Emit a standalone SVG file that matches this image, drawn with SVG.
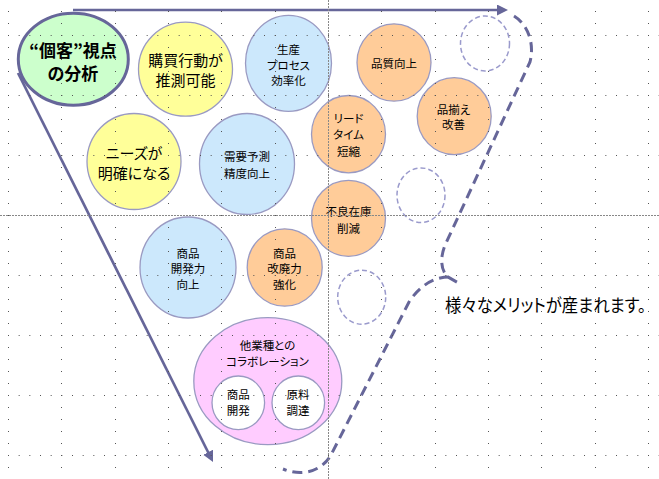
<svg xmlns="http://www.w3.org/2000/svg" width="659" height="479" viewBox="0 0 659 479">
<style>
text{font-family:"Noto Sans CJK JP","Noto Sans CJK SC",sans-serif;fill:#000;text-anchor:middle;font-feature-settings:"palt" 1;}
.t15{font-size:15px;}
.t12{font-size:11.5px;}
.ttl{font-size:17px;font-weight:bold;}
.big{font-size:15px;text-anchor:start;}
.c{stroke:#9a9ac2;stroke-width:1.3;}
.yel{fill:#ffff99;}
.blu{fill:#cce8fc;}
.org{fill:#ffcc99;}
.pnk{fill:#ffccff;}
.wht{fill:#ffffff;}
.dsh{fill:none;stroke:#9a9acc;stroke-width:1.5;stroke-dasharray:5 3;}
.arr{fill:none;stroke:#666699;stroke-width:2.7;}
.bigdash{fill:none;stroke:#666699;stroke-width:3;stroke-dasharray:10 6;}
.gdv{fill:none;stroke:#555;stroke-width:1;stroke-dasharray:1 11;}
.gdh{fill:none;stroke:#555;stroke-width:1;stroke-dasharray:1 9.667;}
.gmaj{fill:none;stroke:#888;stroke-width:1;stroke-dasharray:2 1;}
</style>
<defs>
<marker id="ah" markerUnits="userSpaceOnUse" markerWidth="12" markerHeight="12" refX="2" refY="5.5" orient="auto">
<path d="M0,0 L11,5.5 L0,11 z" fill="#666699"/>
</marker>
</defs>
<rect width="659" height="479" fill="#ffffff"/>

<g id="connectors">
<line class="arr" x1="73" y1="10" x2="499" y2="10" marker-end="url(#ah)"/>
<line class="arr" x1="18" y1="73" x2="209" y2="454" marker-end="url(#ah)"/>
<path class="bigdash" d="M514,16 C527,24 535,42 530,62 L446,243 C440,256 440,270 448,277 L462,285"/>
<path class="bigdash" d="M449,277 C432,277 418,288 409,302 L331,455 C323,469 305,478 283,469"/>
</g>

<g id="node-kokyaku">
<ellipse cx="73.3" cy="59.2" rx="55" ry="46" fill="#ccffcc" stroke="#666699" stroke-width="3"/>
<text class="ttl" x="73" y="57">“個客”視点<tspan x="73" dy="23">の分析</tspan></text>
</g>
<g id="node-kobai">
<ellipse class="c yel" cx="185.5" cy="69.2" rx="47" ry="47"/>
<text class="t15" x="185.5" y="65.7">購買行動が<tspan x="185.5" dy="20">推測可能</tspan></text>
</g>
<g id="node-needs">
<ellipse class="c yel" cx="134" cy="161.5" rx="47" ry="48"/>
<text class="t15" x="134" y="159">ニーズが<tspan x="134" dy="20">明確になる</tspan></text>
</g>
<g id="node-seisan">
<ellipse class="c blu" cx="288.5" cy="63.3" rx="43" ry="48"/>
<text class="t12" x="288.5" y="54.4">生産<tspan x="288.5" dy="15.8">プロセス</tspan><tspan x="288.5" dy="15">効率化</tspan></text>
</g>
<g id="node-juyo">
<ellipse class="c blu" cx="247" cy="164" rx="47.5" ry="50.5"/>
<text class="t12" x="247" y="161.1">需要予測<tspan x="247" dy="16.6">精度向上</tspan></text>
</g>
<g id="node-hinshitsu">
<ellipse class="c org" cx="394" cy="62.5" rx="37" ry="38.7"/>
<text class="t12" x="394" y="67.7">品質向上</text>
</g>
<g id="node-shinazoroe">
<ellipse class="c org" cx="454.2" cy="116.2" rx="37" ry="38.5"/>
<text class="t12" x="453.5" y="114.4">品揃え<tspan x="453.5" dy="15">改善</tspan></text>
</g>
<g id="node-leadtime">
<ellipse class="c org" cx="348.5" cy="134.2" rx="37" ry="38.7"/>
<text class="t12" x="348.5" y="122.7">リード<tspan x="348.5" dy="16.7">タイム</tspan><tspan x="348.5" dy="16.7">短縮</tspan></text>
</g>
<g id="node-furyo">
<ellipse class="c org" cx="348.5" cy="218.3" rx="37" ry="38"/>
<text class="t12" x="348.5" y="216.1">不良在庫<tspan x="348.5" dy="16.6">削減</tspan></text>
</g>
<g id="node-kaihatsu">
<ellipse class="c blu" cx="188" cy="267.5" rx="48" ry="50.5"/>
<text class="t12" x="188" y="257.5">商品<tspan x="188" dy="15.6">開発力</tspan><tspan x="188" dy="15.6">向上</tspan></text>
</g>
<g id="node-kaihai">
<ellipse class="c org" cx="284.7" cy="267.5" rx="37.5" ry="38.7"/>
<text class="t12" x="284.5" y="257.5">商品<tspan x="284.5" dy="15.6">改廃力</tspan><tspan x="284.5" dy="15.6">強化</tspan></text>
</g>
<g id="node-collab">
<ellipse class="c pnk" cx="267.8" cy="381.2" rx="74" ry="63.5"/>
<text class="t12" x="267.5" y="350.4">他業種との<tspan x="267.5" dy="15.7">コラボレーション</tspan></text>
</g>
<g id="node-shohin-kaihatsu">
<ellipse class="c wht" cx="238.3" cy="402.8" rx="26.3" ry="26.8"/>
<text class="t12" x="238.3" y="399.4">商品<tspan x="238.3" dy="15.7">開発</tspan></text>
</g>
<g id="node-genryo">
<ellipse class="c wht" cx="298.3" cy="402.8" rx="26.3" ry="26.8"/>
<text class="t12" x="298" y="399.4">原料<tspan x="298" dy="15.7">調達</tspan></text>
</g>
<g id="node-empty1"><ellipse class="dsh" cx="485" cy="43.5" rx="24.5" ry="27.5"/></g>
<g id="node-empty2"><ellipse class="dsh" cx="421" cy="195.2" rx="24" ry="27.3"/></g>
<g id="node-empty3"><ellipse class="dsh" cx="361.7" cy="297.2" rx="24" ry="27"/></g>
<g id="label-merit">
<text class="big" transform="translate(445,312) scale(1,1.2)" x="0" y="0" textLength="201" lengthAdjust="spacingAndGlyphs">様々なメリットが産まれます。</text>
</g>

<g id="grid">
<path class="gdv" d="M8.5,11V479M61.5,11V479M115.5,11V479M168.5,11V479M221.5,11V479M275.5,11V479M381.5,11V479M435.5,11V479M488.5,11V479M541.5,11V479M595.5,11V479M648.5,11V479"/>
<path class="gdh" d="M8,35.5H659M8,95.5H659M8,155.5H659M8,275.5H659M8,335.5H659M8,395.5H659M8,455.5H659"/>
<path class="gmaj" d="M328.5,0V479M0,215.5H659"/>
</g>
</svg>
